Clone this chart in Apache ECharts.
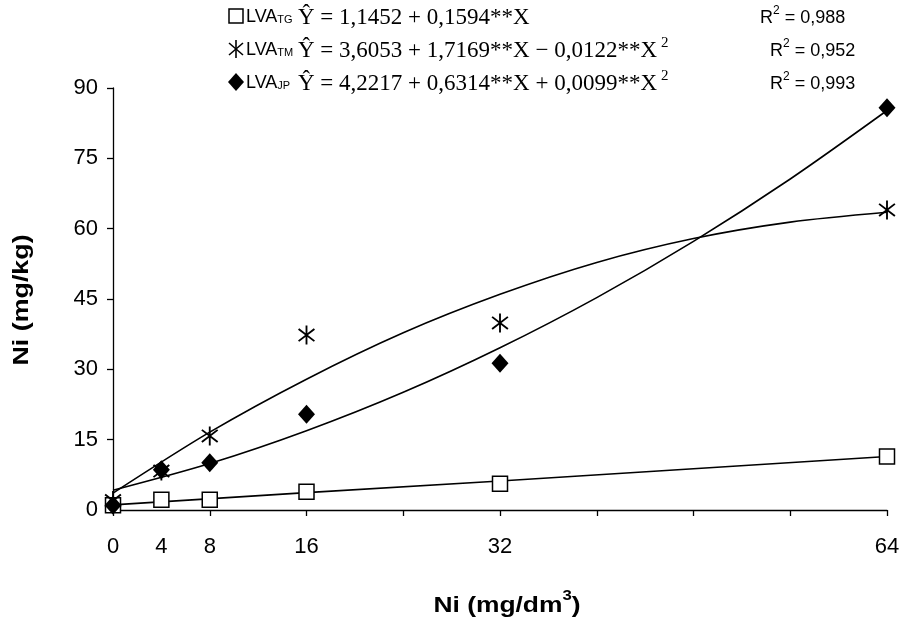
<!DOCTYPE html>
<html><head><meta charset="utf-8">
<script src="https://cdn.jsdelivr.net/npm/echarts@6/dist/echarts.min.js"></script>
<style>html,body{margin:0;padding:0;background:#fff}#c{width:908px;height:621px}</style>
</head><body><div id="c"></div>
<script>
// ---- data ----
const xTickLabels = [0, 4, 8, 16, 32, 64];
const tgPoints = [[0, 1.0], [4, 2.2], [8, 2.2], [16, 3.9], [32, 5.6], [64, 11.4]];
const tmPoints = [[0, 2.0], [4, 8.3], [8, 15.8], [16, 37.3], [32, 39.9], [64, 64.0]];
const jpPoints = [[0, 1.0], [4, 8.6], [8, 10.1], [16, 20.4], [32, 31.3], [64, 85.8]];
const tgCurveX = [0, 16, 32, 48, 64];
const tgCurveY = [1.1, 3.7, 6.2, 8.8, 11.4];
const curveX = [0, 8, 16, 24, 32, 40, 48, 56, 64];
const tmCurveY = [3.6, 16.6, 27.9, 37.8, 46.0, 52.8, 57.9, 61.4, 63.5];
const jpCurveY = [4.2, 9.9, 16.9, 25.1, 34.6, 45.3, 57.3, 70.6, 85.2];
const legendNames = ['TG', 'TM', 'JP'];
const equations = [
  ['Ŷ = 1,1452 + 0,1594**X', ''],
  ['Ŷ = 3,6053 + 1,7169**X − 0,0122**X', '2'],
  ['Ŷ = 4,2217 + 0,6314**X + 0,0099**X', '2']
];
const r2Values = ['0,988', '0,952', '0,993'];

const pair = (xs, ys) => xs.map((x, i) => [x, ys[i]]);
const SANS = 'Liberation Sans, Arial, sans-serif';
const SERIF = 'Liberation Serif, Times New Roman, serif';

const asterisk = 'path://M9.1 0L9.1 20L10.9 20L10.9 0Z M1.761 4.259L17.081 17.119L18.239 15.741L2.919 2.881Z M17.081 2.881L1.761 15.741L2.919 17.119L18.239 4.259Z';

const chart = echarts.init(document.getElementById('c'), null, {renderer: 'canvas'});

const lineStyle = {color: '#000', width: 1.6};
const rowY = [16, 49, 82];
const graphics = [];
// legend markers
graphics.push({type: 'rect', shape: {x: 229, y: rowY[0] - 7, width: 14, height: 14}, style: {fill: '#fff', stroke: '#000', lineWidth: 1.5}});
const ax = 236, ay = rowY[1];
graphics.push({type: 'line', shape: {x1: ax, y1: ay - 9, x2: ax, y2: ay + 9}, style: {stroke: '#000', lineWidth: 1.6}});
graphics.push({type: 'line', shape: {x1: ax - 7, y1: ay - 6, x2: ax + 7, y2: ay + 6}, style: {stroke: '#000', lineWidth: 1.6}});
graphics.push({type: 'line', shape: {x1: ax - 7, y1: ay + 6, x2: ax + 7, y2: ay - 6}, style: {stroke: '#000', lineWidth: 1.6}});
graphics.push({type: 'polygon', shape: {points: [[236, rowY[2] - 9], [244, rowY[2]], [236, rowY[2] + 9], [228, rowY[2]]]}, style: {fill: '#000'}});
legendNames.forEach((n, i) => {
  graphics.push({type: 'text', x: 246, y: rowY[i] + 1, style: {
    text: '{a|LVA}{b|' + n + '}', verticalAlign: 'middle', align: 'left',
    rich: {a: {fontFamily: SANS, fontSize: 18, fill: '#000', lineHeight: 18, verticalAlign: 'bottom'},
           b: {fontFamily: SANS, fontSize: 11, fill: '#000', lineHeight: 18, verticalAlign: 'bottom', padding: [0, 0, 1, 0]}}
  }});
  graphics.push({type: 'text', x: 298, y: rowY[i], style: {
    text: '{e|' + equations[i][0] + '}' + (equations[i][1] ? '{s|' + equations[i][1] + '}' : ''),
    verticalAlign: 'middle', align: 'left',
    rich: {e: {fontFamily: SERIF, fontSize: 23, fill: '#000', lineHeight: 26, verticalAlign: 'bottom'},
           s: {fontFamily: SERIF, fontSize: 15, fill: '#000', lineHeight: 17, verticalAlign: 'top', padding: [0, 0, 0, 4]}}
  }});
  graphics.push({type: 'text', x: i === 0 ? 760 : 770, y: rowY[i], style: {
    text: '{r|R}{s|2}{r| = ' + r2Values[i] + '}', verticalAlign: 'middle', align: 'left',
    rich: {r: {fontFamily: SANS, fontSize: 18, fill: '#000', lineHeight: 22, verticalAlign: 'bottom'},
           s: {fontFamily: SANS, fontSize: 12, fill: '#000', lineHeight: 12, verticalAlign: 'top'}}
  }});
});
// axis titles
graphics.push({type: 'text', x: 22, y: 300, rotation: Math.PI / 2, scaleX: 1.22, style: {
  text: 'Ni (mg/kg)', fontFamily: SANS, fontSize: 22, fontWeight: 'bold', fill: '#000', align: 'center', verticalAlign: 'middle'}});
graphics.push({type: 'text', x: 507, y: 603, scaleX: 1.2, style: {
  text: '{t|Ni (mg/dm}{s|3}{t|)}', align: 'center', verticalAlign: 'middle',
  rich: {t: {fontFamily: SANS, fontSize: 22, fontWeight: 'bold', fill: '#000', lineHeight: 27, verticalAlign: 'bottom'},
         s: {fontFamily: SANS, fontSize: 14, fontWeight: 'bold', fill: '#000', lineHeight: 14, verticalAlign: 'top'}}
}});

const option = {
  backgroundColor: '#fff',
  animation: false,
  grid: {left: 113, right: 21, top: 88, bottom: 111, containLabel: false},
  xAxis: [
    {type: 'value', min: 0, max: 64, interval: 8, position: 'bottom',
     axisLine: {lineStyle: {color: '#000', width: 1.3}}, axisTick: {show: true, length: 6, lineStyle: {color: '#000', width: 1.3}},
     axisLabel: {show: false}, splitLine: {show: false}},
    {type: 'value', min: 0, max: 64, interval: 4, position: 'bottom',
     axisLine: {show: false}, axisTick: {show: false}, splitLine: {show: false},
     axisLabel: {show: true, margin: 26, fontFamily: SANS, fontSize: 22, color: '#000',
       formatter: v => xTickLabels.includes(v) ? String(v) : ''}}
  ],
  yAxis: {type: 'value', min: 0, max: 90, interval: 15,
    axisLine: {show: true, lineStyle: {color: '#000', width: 1.3}}, axisTick: {show: true, length: 6, lineStyle: {color: '#000', width: 1.3}},
    axisLabel: {margin: 15, fontFamily: SANS, fontSize: 22, color: '#000'}, splitLine: {show: false}},
  graphic: graphics,
  series: [
    {type: 'line', data: pair(tgCurveX, tgCurveY), symbol: 'none', lineStyle, z: 2},
    {type: 'line', data: pair(curveX, tmCurveY), symbol: 'none', smooth: 0.3, lineStyle, z: 2},
    {type: 'line', data: pair(curveX, jpCurveY), symbol: 'none', smooth: 0.3, lineStyle, z: 2},
    {type: 'scatter', data: tgPoints, symbol: 'rect', symbolSize: 15, itemStyle: {color: '#fff', borderColor: '#000', borderWidth: 1.5, opacity: 1}, z: 3},
    {type: 'scatter', data: tmPoints, symbol: asterisk, symbolSize: [17, 19], itemStyle: {color: '#000', opacity: 1}, z: 4},
    {type: 'scatter', data: jpPoints, symbol: 'diamond', symbolSize: [17, 19], itemStyle: {color: '#000', opacity: 1}, z: 5}
  ]
};
chart.setOption(option);
</script>
</body></html>
